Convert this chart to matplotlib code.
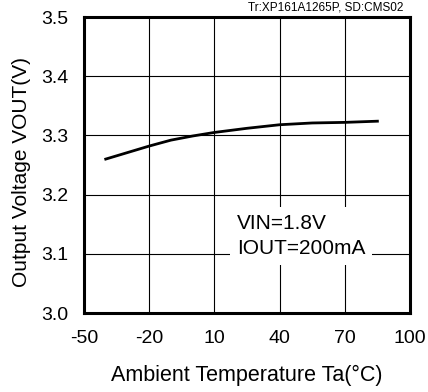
import matplotlib
matplotlib.use("Agg")
import matplotlib.pyplot as plt

plt.rcParams['font.family'] = ['Liberation Sans', 'DejaVu Sans']
plt.rcParams['axes.unicode_minus'] = False

# data
temps = [-40, -30, -20, -10, 0, 10, 25, 40, 55, 70, 85]
vout = [3.260, 3.271, 3.282, 3.292, 3.299, 3.305, 3.312, 3.318, 3.321, 3.322, 3.324]
xticks = [-50, -20, 10, 40, 70, 100]
yticks = [3.0, 3.1, 3.2, 3.3, 3.4, 3.5]

fig = plt.figure(figsize=(4.28, 3.92), dpi=100)
ax = fig.add_axes([84/428, 1 - 313/392, (410 - 84)/428, (313 - 17)/392])

ax.plot(temps, vout, color='black', linewidth=2.0, zorder=3)

ax.set_xlim(-50, 100)
ax.set_ylim(3.0, 3.5)
ax.set_xticks(xticks)
ax.set_yticks(yticks)
ax.set_yticklabels([f"{v:.1f}" for v in yticks])
ax.tick_params(length=0, labelsize=14)
ax.tick_params(axis='x', pad=12.5)
ax.tick_params(axis='y', pad=11.5)
ax.grid(True, color='black', linewidth=0.8)
ax.set_axisbelow(True)
for s in ax.spines.values():
    s.set_linewidth(2.2)

ax.set_xlabel("Ambient Temperature Ta(\u00b0C)", fontsize=15.5, labelpad=12.5)
ax.set_ylabel("Output Voltage VOUT(V)", fontsize=15)
ax.yaxis.set_label_coords(-0.163, 0.476)

ax.text(0.9785, 1.021, "Tr:XP161A1265P, SD:CMS02", transform=ax.transAxes,
        ha='right', va='baseline', fontsize=8.5)

ax.text(20.5, 3.130, "VIN=1.8V\nIOUT=200mA", fontsize=15, ha='left', va='center',
        linespacing=1.4,
        bbox=dict(facecolor='white', edgecolor='none', pad=5), zorder=2)

fig.savefig("out.png", dpi=100)
